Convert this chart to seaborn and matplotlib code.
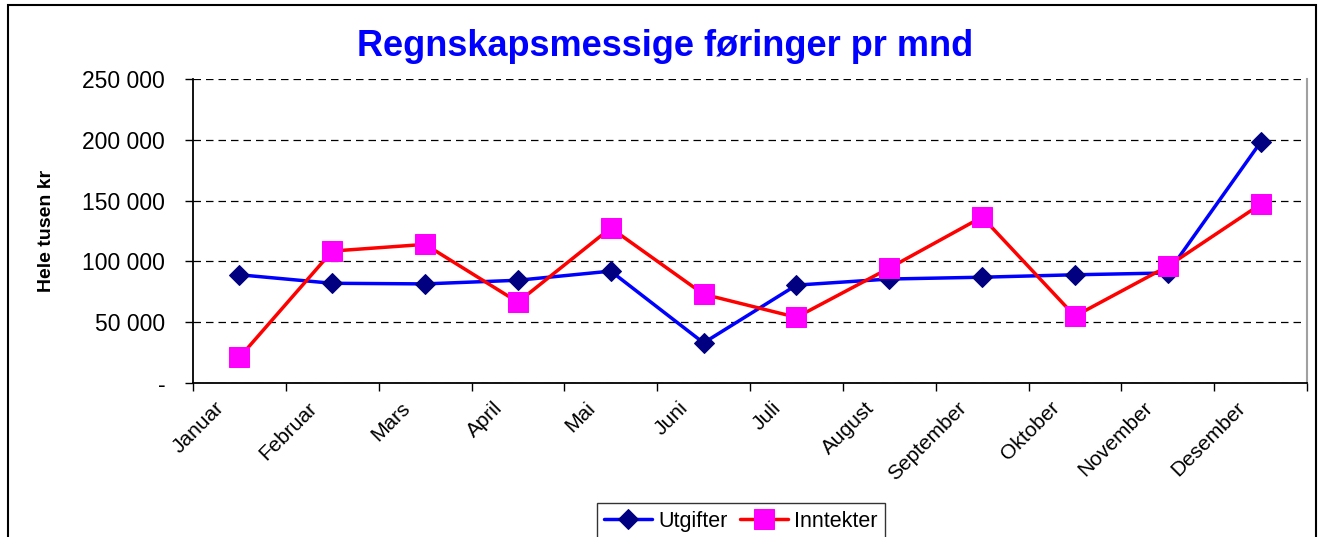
import matplotlib
matplotlib.use("Agg")
import matplotlib.pyplot as plt
import matplotlib.ticker as mticker
from matplotlib.patches import Rectangle
from matplotlib.transforms import ScaledTranslation
import pandas as pd
import seaborn as sns

months = ["Januar", "Februar", "Mars", "April", "Mai", "Juni", "Juli",
          "August", "September", "Oktober", "November", "Desember"]
utgifter = [89000, 82000, 81500, 84500, 92000, 33000, 80500,
            85500, 87000, 89000, 90500, 198000]
inntekter = [21000, 108500, 114000, 66500, 127500, 73000, 54000,
             94500, 136500, 55000, 96000, 147000]
yticks = [0, 50000, 100000, 150000, 200000, 250000]
ytick_labels = ["-", "50 000", "100 000", "150 000", "200 000", "250 000"]

df = pd.DataFrame({"maned": months, "Utgifter": utgifter, "Inntekter": inntekter})
df["pos"] = range(len(months))

sns.set_theme(style="white")
plt.rcParams["font.family"] = ["Liberation Sans", "DejaVu Sans"]
plt.rcParams["text.color"] = "black"
plt.rcParams["xtick.color"] = "black"
plt.rcParams["ytick.color"] = "black"
plt.rcParams["axes.labelcolor"] = "black"

fig = plt.figure(figsize=(13.24, 5.37), dpi=100)
ax = fig.add_axes([193 / 1324, 1 - 383 / 537, (1307 - 193) / 1324, (383 - 79) / 537])

sns.lineplot(data=df, x="pos", y="Utgifter", ax=ax, color="#0000ff", lw=2.5,
             marker="D", markersize=10, markerfacecolor="#000080",
             markeredgecolor="#000080", label="Utgifter")
sns.lineplot(data=df, x="pos", y="Inntekter", ax=ax, color="#ff0000", lw=2.5,
             marker="s", markersize=14, markerfacecolor="#ff00ff",
             markeredgecolor="#ff00ff", label="Inntekter")

ax.set_xlim(-0.5, len(months) - 0.5)
ax.set_ylim(0, 250000)
ax.set_yticks(yticks)
ax.set_yticklabels(ytick_labels, fontsize=16.5)
ax.yaxis.grid(True, color="black", linestyle=(0, (6, 4)), lw=0.9)

# ticks on category borders, labels at centres
ax.xaxis.set_major_locator(mticker.FixedLocator([i - 0.5 for i in range(len(months) + 1)]))
ax.xaxis.set_major_formatter(mticker.NullFormatter())
ax.xaxis.set_minor_locator(mticker.FixedLocator(list(range(len(months)))))
ax.xaxis.set_minor_formatter(mticker.FixedFormatter(months))
ax.tick_params(axis="x", which="major", direction="out", length=6, width=1, color="black", bottom=True)
ax.tick_params(axis="x", which="minor", length=0, pad=11)
ax.tick_params(axis="y", direction="out", length=6, width=1, color="black", left=True, pad=14)
shift = ScaledTranslation(-25 / 100, 0, fig.dpi_scale_trans)
for lbl in ax.xaxis.get_minorticklabels():
    lbl.set_rotation(45)
    lbl.set_ha("right")
    lbl.set_rotation_mode("anchor")
    lbl.set_fontsize(15)
    lbl.set_transform(lbl.get_transform() + shift)

ax.set_xlabel("")
ax.set_ylabel("Hele tusen kr", fontsize=14, fontweight="bold")
ax.yaxis.set_label_coords(-0.124, 0.5)

for side in ["left", "bottom"]:
    ax.spines[side].set_color("black")
    ax.spines[side].set_linewidth(1.3)
ax.spines["right"].set_color("#a0a0a0")
ax.spines["right"].set_linewidth(1.5)
ax.spines["top"].set_visible(False)

fig.suptitle("Regnskapsmessige føringer pr mnd", x=665 / 1324, y=1 - 46 / 537,
             va="center", fontsize=26, fontweight="bold", color="#0000ff")

ax.get_legend().remove()
handles, labels = ax.get_legend_handles_labels()
leg = fig.legend(handles, labels, loc="upper center", ncol=2,
                 bbox_to_anchor=(741 / 1324, 1 - 503 / 537), fontsize=15.5,
                 frameon=True, fancybox=False, edgecolor="black",
                 handlelength=2.2, handletextpad=0.3, columnspacing=0.6,
                 borderpad=0.35, borderaxespad=0)
leg.get_frame().set_linewidth(1.0)

fig.patches.append(Rectangle((8 / 1324, -0.02), 1308 / 1324, 1.02 - 5 / 537,
                             transform=fig.transFigure, fill=False,
                             edgecolor="black", lw=1.5))

fig.savefig("out.png", dpi=100)
